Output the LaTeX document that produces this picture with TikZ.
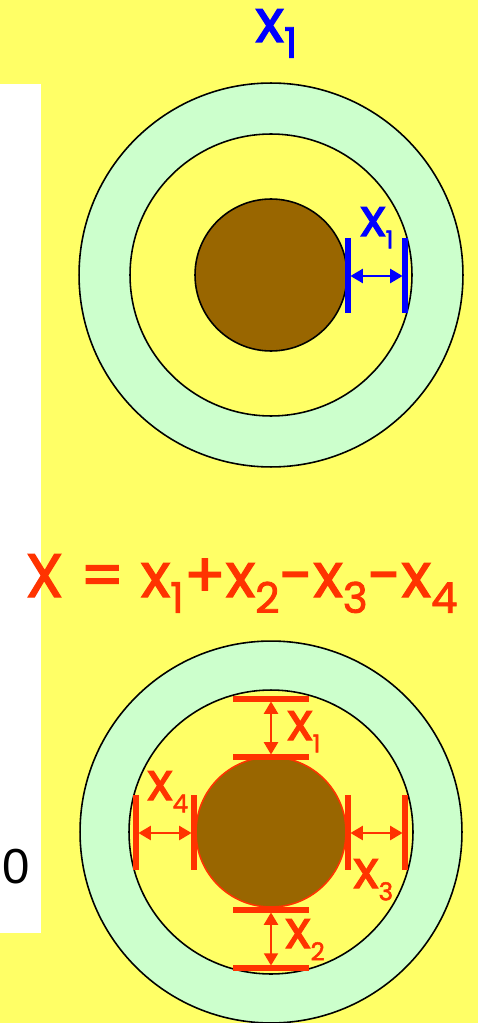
\documentclass[tikz,border=0pt]{standalone}
\usepackage{fontspec}
\setmainfont{Poppins}
\newfontfamily\markfont{Poppins}[FakeBold=2]
\newfontfamily\plainsans{Liberation Sans}
\usetikzlibrary{arrows.meta,positioning}
\definecolor{bgyellow}{HTML}{FFFF66}
\definecolor{ringgreen}{HTML}{CCFFCC}
\definecolor{corebrown}{HTML}{996600}
\definecolor{markblue}{HTML}{0000FF}
\definecolor{markred}{HTML}{FF3300}
\newcommand{\bigidx}[1]{\raisebox{-9pt}{\fontsize{24}{24}\selectfont #1}}
\newcommand{\smallidx}[1]{\raisebox{-7pt}{\fontsize{14}{14}\selectfont #1}}

\begin{document}
\begin{tikzpicture}[
    x=0.02cm, y=-0.02cm,
    ring/.style={draw=black, line width=0.9pt},
    bar/.style={line width=2.9pt},
    dim/.style={{Triangle[length=7pt,width=8pt]}-{Triangle[length=7pt,width=8pt]}, line width=1.1pt, shorten <=1.4pt, shorten >=1.4pt},
    biglabel/.style={font=\markfont\fontsize{34}{34}\selectfont, inner sep=0pt, anchor=base west},
    smalllabel/.style={font=\markfont\fontsize{30}{30}\selectfont, inner sep=0pt, anchor=base west}
]
    \useasboundingbox (0,0) rectangle (478,1023);
    \fill[bgyellow] (0,0) rectangle (478,1023);

    % white panel on the left
    \fill[white] (0,84) rectangle (41,933);
    \node[font=\plainsans\fontsize{28}{28}\selectfont, inner sep=0pt, anchor=base east] (num) at (30,883) {00};

    % upper target
    \coordinate (topc) at (271,275);
    \fill[ringgreen, ring] (topc) circle[radius=3.84cm];
    \fill[bgyellow, ring] (topc) circle[radius=2.82cm];
    \fill[corebrown, ring] (topc) circle[radius=1.52cm];

    \node[biglabel, markblue] (title) at (255,42) {x\bigidx{1}};

    \draw[bar, markblue] (348,238) -- (348,313);
    \draw[bar, markblue] (405,238) -- (405,313);
    \coordinate (bl) at (348,276);
    \coordinate (br) at (405,276);
    \draw[dim, markblue] (bl) -- (br);
    \node[smalllabel, markblue] (xone) at (360,236) {x\smallidx{1}};

    % formula
    \node[biglabel, markred, font=\markfont\fontsize{35}{35}\selectfont] (sum) at (25,597) {X = x\bigidx{1}+x\bigidx{2}-x\bigidx{3}-x\bigidx{4}};

    % lower target
    \coordinate (botc) at (271,832);
    \fill[ringgreen, ring] (botc) circle[radius=3.82cm];
    \fill[bgyellow, ring] (botc) circle[radius=2.84cm];
    \fill[corebrown, draw=markred, line width=0.9pt] (botc) circle[radius=1.5cm];

    % top gap
    \draw[bar, markred] (233,699) -- (309,699);
    \draw[bar, markred] (233,757) -- (309,757);
    \coordinate (ta) at (271,699);
    \coordinate (tb) at (271,757);
    \draw[dim, markred] (ta) -- (tb);
    \node[smalllabel, markred] (rone) at (287,740) {x\smallidx{1}};

    % bottom gap
    \draw[bar, markred] (233,910) -- (309,910);
    \draw[bar, markred] (233,968) -- (309,968);
    \coordinate (ba) at (271,910);
    \coordinate (bb) at (271,968);
    \draw[dim, markred] (ba) -- (bb);
    \node[smalllabel, markred] (rtwo) at (285,948) {x\smallidx{2}};

    % right gap
    \draw[bar, markred] (348,795) -- (348,870);
    \draw[bar, markred] (405,795) -- (405,870);
    \coordinate (ra) at (348,833);
    \coordinate (rb) at (405,833);
    \draw[dim, markred] (ra) -- (rb);
    \node[smalllabel, markred] (rthree) at (353,888) {x\smallidx{3}};

    % left gap
    \draw[bar, markred] (136,795) -- (136,870);
    \draw[bar, markred] (194,795) -- (194,870);
    \coordinate (la) at (136,833);
    \coordinate (lb) at (194,833);
    \draw[dim, markred] (la) -- (lb);
    \node[smalllabel, markred] (rfour) at (147,800) {x\smallidx{4}};
\end{tikzpicture}
\end{document}
